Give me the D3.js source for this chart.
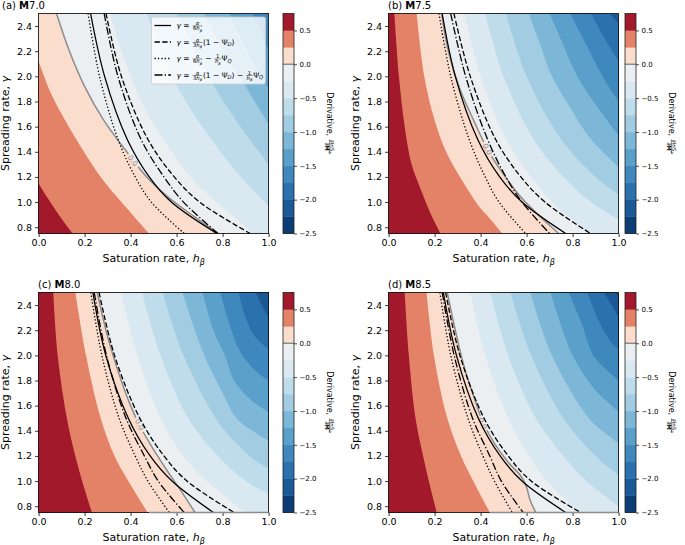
<!DOCTYPE html>
<html><head><meta charset="utf-8">
<script src="https://cdn.jsdelivr.net/npm/d3@7"></script>
<style>body{margin:0;background:#fff} text{font-family:"DejaVu Sans",sans-serif}</style>
</head><body><svg id="c" width="685" height="545" xmlns="http://www.w3.org/2000/svg"></svg>
<script>
// ---------------- data ----------------
const gammaSamples = [2.5, 2.0, 1.5, 1.2, 1.0, 0.75];
const xTicks = [0, 0.2, 0.4, 0.6, 0.8, 1.0];
const yTicks = [0.8, 1.0, 1.2, 1.4, 1.6, 1.8, 2.0, 2.2, 2.4];
const cbTicks = [0.5, 0, -0.5, -1, -1.5, -2, -2.5];
const levels = [-2.5,-2.25,-2,-1.75,-1.5,-1.25,-1,-0.75,-0.5,-0.25,0,0.25,0.5,0.75];
const panelTags = ["(a)", "(b)", "(c)", "(d)"];
const magnitudes = ["7.0", "7.5", "8.0", "8.5"];

// contour boundaries [level, [[h, gamma], ...]] (value >= level lies lower-left)
const contoursA = [
  [-1.5, [[0.93,2.5],[0.965,2.36],[1.0,2.2]]],
  [-1.25,[[0.83,2.5],[0.91,2.2],[1.0,1.9]]],
  [-1.0, [[0.72,2.5],[0.8,2.22],[0.9,1.92],[1.0,1.62]]],
  [-0.75,[[0.6,2.5],[0.68,2.2],[0.78,1.87],[0.89,1.57],[1.0,1.3]]],
  [-0.5, [[0.47,2.5],[0.55,2.12],[0.64,1.8],[0.75,1.5],[0.87,1.22],[1.0,0.97]]],
  [-0.25,[[0.31,2.5],[0.38,2.1],[0.46,1.75],[0.56,1.45],[0.66,1.2],[0.76,1.02],[0.86,0.87],[0.93,0.75]]],
  [0,    [[0.078,2.5],[0.13,2.22],[0.2,1.92],[0.28,1.66],[0.375,1.42],[0.47,1.2],[0.57,1.03],[0.68,0.88],[0.78,0.75]]],
  [0.25, [[0,2.12],[0.05,1.88],[0.1,1.7],[0.18,1.45],[0.27,1.2],[0.36,1.0],[0.48,0.75]]],
  [0.5,  [[0,1.15],[0.04,1.03],[0.08,0.92],[0.115,0.83],[0.148,0.75]]]
];
const contoursB = [
  [-2.0, [[0.96,2.5],[1.0,2.42]]],
  [-1.75,[[0.88,2.5],[0.94,2.3],[1.0,2.12]]],
  [-1.5, [[0.79,2.5],[0.86,2.25],[0.93,2.0],[1.0,1.8]]],
  [-1.25,[[0.70,2.5],[0.76,2.25],[0.82,2.0],[0.91,1.75],[1.0,1.53]]],
  [-1.0, [[0.61,2.5],[0.66,2.25],[0.71,2.0],[0.79,1.75],[0.88,1.5],[1.0,1.28]]],
  [-0.75,[[0.51,2.5],[0.6,2.0],[0.75,1.5],[0.9,1.2],[1.0,1.06]]],
  [-0.5, [[0.42,2.5],[0.5,2.0],[0.63,1.5],[0.76,1.2],[0.88,1.0],[1.0,0.86]]],
  [-0.25,[[0.33,2.5],[0.4,2.0],[0.51,1.5],[0.62,1.2],[0.71,1.0],[0.87,0.75]]],
  [0,    [[0.23,2.5],[0.26,2.2],[0.31,1.9],[0.37,1.65],[0.43,1.42],[0.5,1.22],[0.57,1.05],[0.65,0.9],[0.74,0.75]]],
  [0.25, [[0.122,2.5],[0.155,2.0],[0.2,1.65],[0.25,1.4],[0.32,1.17],[0.4,0.95],[0.44,0.87],[0.494,0.75]]],
  [0.5,  [[0.025,2.5],[0.045,2.0],[0.07,1.6],[0.1,1.3],[0.14,1.1],[0.18,0.92],[0.226,0.75]]]
];
const contoursC = [
  [-2.25,[[0.99,2.5],[1.0,2.48]]],
  [-2.0, [[0.945,2.5],[0.97,2.4],[1.0,2.3]]],
  [-1.75,[[0.87,2.5],[0.9,2.3],[0.94,2.15],[1.0,2.05]]],
  [-1.5, [[0.79,2.5],[0.83,2.25],[0.87,2.05],[0.93,1.9],[1.0,1.8]]],
  [-1.25,[[0.713,2.5],[0.76,2.2],[0.81,2.0],[0.85,1.8],[0.92,1.65],[1.0,1.55]]],
  [-1.0, [[0.626,2.5],[0.72,2.0],[0.8,1.7],[0.86,1.5],[0.93,1.4],[1.0,1.32]]],
  [-0.75,[[0.54,2.5],[0.63,2.0],[0.77,1.5],[0.86,1.3],[0.93,1.18],[1.0,1.1]]],
  [-0.5, [[0.45,2.5],[0.53,2.0],[0.65,1.5],[0.78,1.2],[0.9,1.0],[1.0,0.9]]],
  [-0.25,[[0.358,2.5],[0.43,2.0],[0.53,1.5],[0.63,1.2],[0.73,1.0],[0.9,0.75]]],
  [0,    [[0.255,2.5],[0.3,2.15],[0.35,1.85],[0.4,1.6],[0.44,1.44],[0.5,1.25],[0.56,1.08],[0.62,0.92],[0.68,0.75]]],
  [0.25, [[0.16,2.5],[0.206,2.0],[0.27,1.5],[0.33,1.2],[0.39,1.0],[0.474,0.75]]],
  [0.5,  [[0.064,2.5],[0.083,2.0],[0.126,1.47],[0.177,1.08],[0.232,0.75]]]
];
const contoursD = [
  [-2.25,[[0.985,2.5],[1.0,2.47]]],
  [-2.0, [[0.936,2.5],[0.97,2.4],[1.0,2.3]]],
  [-1.75,[[0.864,2.5],[0.92,2.25],[0.97,2.1],[1.0,2.05]]],
  [-1.5, [[0.784,2.5],[0.84,2.25],[0.89,2.0],[0.95,1.88],[1.0,1.8]]],
  [-1.25,[[0.704,2.5],[0.8,2.0],[0.9,1.72],[0.97,1.6],[1.0,1.55]]],
  [-1.0, [[0.617,2.5],[0.71,2.0],[0.87,1.5],[0.95,1.37],[1.0,1.3]]],
  [-0.75,[[0.53,2.5],[0.62,2.0],[0.76,1.5],[0.9,1.2],[1.0,1.05]]],
  [-0.5, [[0.443,2.5],[0.52,2.0],[0.64,1.5],[0.76,1.2],[0.86,1.0],[1.0,0.8]]],
  [-0.25,[[0.356,2.5],[0.42,2.0],[0.52,1.5],[0.61,1.2],[0.69,1.0],[0.83,0.75]]],
  [0,    [[0.255,2.5],[0.29,2.2],[0.33,1.9],[0.38,1.62],[0.41,1.47],[0.46,1.3],[0.52,1.15],[0.575,1.04],[0.6,0.95],[0.615,0.85],[0.64,0.75]]],
  [0.25, [[0.165,2.5],[0.197,2.0],[0.255,1.5],[0.315,1.2],[0.368,1.0],[0.44,0.75]]],
  [0.5,  [[0.07,2.5],[0.088,2.0],[0.117,1.5],[0.15,1.2],[0.175,1.0],[0.209,0.75]]]
];

// threshold curves: h at each gammaSamples value
const solidA   = [0.226,0.287,0.385,0.481,0.577,0.775];
const dashedA  = [0.293,0.36,0.475,0.59,0.70,0.92];
const dottedA  = [0.215,0.265,0.345,0.42,0.49,0.633];
const dashdotA = [0.285,0.345,0.445,0.545,0.63,0.78];
const solidB   = [0.233,0.29,0.387,0.483,0.58,0.77];
const dashedB  = [0.284,0.355,0.465,0.575,0.68,0.878];
const dottedB  = [0.219,0.27,0.35,0.42,0.48,0.596];
const dashdotB = [0.27,0.335,0.43,0.51,0.58,0.70];
const solidC   = [0.236,0.292,0.39,0.485,0.58,0.76];
const dashedC  = [0.263,0.33,0.44,0.545,0.645,0.85];
const dottedC  = [0.227,0.275,0.35,0.42,0.475,0.568];
const dashdotC = [0.242,0.295,0.38,0.46,0.52,0.633];
const solidD   = [0.238,0.295,0.39,0.485,0.58,0.77];
const dashedD  = [0.248,0.31,0.415,0.52,0.62,0.835];
const dottedD  = [0.223,0.27,0.345,0.41,0.46,0.538];
const dashdotD = [0.233,0.285,0.365,0.44,0.49,0.585];

// zero-contour label positions [h, gamma] and zero contour along bottom edge [h0, h1]
const zeroLabelA = [0.41, 1.33];
const zeroLabelB = [0.43, 1.42];
const zeroLabelC = [0.44, 1.45];
const zeroLabelD = [0.41, 1.46];
const bottomZeroC = [0.48, 1.0];
const bottomZeroD = [0.44, 1.0];

// ---------------- layout ----------------
const PW = 230, PH = 220, CBW = 11;
const frames = [
  {x:38.6, y:13.5, cb:283, tx:2},
  {x:388.6, y:13.5, cb:625, tx:388},
  {x:38.6, y:292.5, cb:283, tx:38},
  {x:388.6, y:292.5, cb:625, tx:388}
];
const panels = [
  {contours:contoursA, curves:[solidA,dashedA,dottedA,dashdotA], label:zeroLabelA, bottom:null},
  {contours:contoursB, curves:[solidB,dashedB,dottedB,dashdotB], label:zeroLabelB, bottom:null},
  {contours:contoursC, curves:[solidC,dashedC,dottedC,dashdotC], label:zeroLabelC, bottom:bottomZeroC},
  {contours:contoursD, curves:[solidD,dashedD,dottedD,dashdotD], label:zeroLabelD, bottom:bottomZeroD}
];
const dashes = [null, "5.4,2.3", "1.3,2.1", "8,2.2,1.3,2.2"];
const LW = 1.3;

const svg = d3.select("#c");
const defs = svg.append("defs");
const cmapColor = v => { const t = v < 0 ? 0.5 + 0.5 * v / 2.5 : 0.5 + 0.5 * v / 0.75; return d3.interpolateRdBu(1 - t); };
const NB = "\u00a0";

// math layout helper
function layoutMath(g, tokens, size, x0, base) {
  let x = x0;
  for (const t of tokens) {
    if (t.frac) {
      const fs = size * 0.7;
      const ng = g.append("g"), dg = g.append("g");
      const nw = layoutMath(ng, t.frac[0], fs, 0, 0);
      const dw = layoutMath(dg, t.frac[1], fs, 0, 0);
      const w = Math.max(nw, dw) + size * 0.25;
      const ax = base - size * 0.3;
      ng.attr("transform", `translate(${x + (w - nw) / 2},${ax - size * 0.1})`);
      dg.attr("transform", `translate(${x + (w - dw) / 2},${ax + size * 0.1 + fs * 0.72})`);
      g.append("line").attr("x1", x + size * 0.08).attr("x2", x + w - size * 0.08)
        .attr("y1", ax).attr("y2", ax).attr("stroke", "#000").attr("stroke-width", Math.max(0.45, size * 0.06));
      x += w;
    } else {
      const fs = t.sub ? size * 0.7 : size;
      const tx = g.append("text").attr("x", x).attr("y", base + (t.sub ? size * 0.22 : 0))
        .attr("font-size", fs).attr("font-style", t.i ? "italic" : "normal")
        .attr("font-weight", t.b ? "bold" : "normal").attr("fill", "#000").text(t.s);
      x += tx.node().getComputedTextLength();
    }
  }
  return x - x0;
}
const T = (s, o = {}) => Object.assign({s}, o);
const hb = [T("h", {i:true}), T("β", {sub:true, i:true})];
const frA6 = {frac:[[T("α",{i:true})], [T("6"), ...hb]]};
const frA3 = {frac:[[T("α",{i:true})], [T("3"), ...hb]]};
const fr1h = {frac:[[T("1")], hb]};
const psiD = [T("(1" + NB + "−" + NB + "Ψ"), T("D",{sub:true,i:true}), T(")")];
const psiQ = [T("Ψ"), T("Q",{sub:true,i:true})];
const minus = T(NB + "−" + NB);
const legendRows = [
  [T("γ",{i:true}), T(NB + "=" + NB), frA6],
  [T("γ",{i:true}), T(NB + "=" + NB), frA3, ...psiD],
  [T("γ",{i:true}), T(NB + "=" + NB), frA6, minus, fr1h, ...psiQ],
  [T("γ",{i:true}), T(NB + "=" + NB), frA3, ...psiD, minus, fr1h, ...psiQ]
];

panels.forEach((P, pi) => {
  const F = frames[pi];
  const x = d3.scaleLinear().domain([0, 1]).range([F.x, F.x + PW]);
  const y = d3.scaleLinear().domain([0.75, 2.5]).range([F.y + PH, F.y]);
  const clipId = "clip" + pi;
  defs.append("clipPath").attr("id", clipId).append("rect")
    .attr("x", F.x).attr("y", F.y).attr("width", PW).attr("height", PH);
  const g = svg.append("g").attr("clip-path", `url(#${clipId})`);

  // filled contours (painter's order, lowest level first)
  const bounds = P.contours.slice().sort((a, b) => a[0] - b[0]);
  const lmin = bounds[0][0];
  g.append("rect").attr("x", F.x).attr("y", F.y).attr("width", PW).attr("height", PH)
    .attr("fill", cmapColor(lmin - 0.125));
  const lineGen = d3.line().x(d => x(d[0])).y(d => y(d[1])).curve(d3.curveCatmullRom.alpha(0.5));
  bounds.forEach(([lev, pts]) => {
    const d = lineGen(pts) + `L${x(10)},${y(-10)}L${x(-10)},${y(-10)}L${x(-10)},${y(10)}Z`;
    g.append("path").attr("d", d).attr("fill", cmapColor(lev + 0.125));
  });

  // zero contour (gray) with inline label gap
  const zero = P.contours.find(c => c[0] === 0)[1];
  const lp = [x(P.label[0]), y(P.label[1])];
  let best = 0, bd = 1e9;
  zero.forEach((p, i) => { const dd = Math.hypot(x(p[0]) - lp[0], y(p[1]) - lp[1]); if (dd < bd) { bd = dd; best = i; } });
  const i0 = Math.max(0, best - 1), i1 = Math.min(zero.length - 1, best + 1);
  let ang = Math.atan2(y(zero[i1][1]) - y(zero[i0][1]), x(zero[i1][0]) - x(zero[i0][0])) * 180 / Math.PI;
  if (ang > 90) ang -= 180; if (ang < -90) ang += 180;
  const maskId = "mask" + pi;
  const mk = defs.append("mask").attr("id", maskId).attr("maskUnits", "userSpaceOnUse")
    .attr("x", 0).attr("y", 0).attr("width", 685).attr("height", 545);
  mk.append("rect").attr("x", 0).attr("y", 0).attr("width", 685).attr("height", 545).attr("fill", "#fff");
  mk.append("rect").attr("x", -8).attr("y", -4).attr("width", 16).attr("height", 8).attr("fill", "#000")
    .attr("transform", `translate(${lp[0]},${lp[1]}) rotate(${ang})`);
  g.append("path").attr("d", lineGen(zero)).attr("fill", "none").attr("stroke", "#8c8c8c")
    .attr("stroke-width", 1.5).attr("mask", `url(#${maskId})`);
  g.append("text").attr("transform", `translate(${lp[0]},${lp[1]}) rotate(${ang})`)
    .attr("text-anchor", "middle").attr("dy", "0.35em").attr("font-size", 7.5).attr("fill", "#8c8c8c").text("0.0");

  // threshold curves
  P.curves.forEach((hs, ci) => {
    const pts = gammaSamples.map((gm, k) => [hs[k], gm]);
    const p = g.append("path").attr("d", lineGen(pts)).attr("fill", "none")
      .attr("stroke", "#000").attr("stroke-width", LW);
    if (dashes[ci]) p.attr("stroke-dasharray", dashes[ci]);
  });

  // axes
  const ax = svg.append("g").attr("transform", `translate(0,${F.y + PH})`)
    .call(d3.axisBottom(x).tickValues(xTicks).tickFormat(d3.format(".1f")).tickSize(3.5).tickPadding(2.5));
  const ay = svg.append("g").attr("transform", `translate(${F.x},0)`)
    .call(d3.axisLeft(y).tickValues(yTicks).tickFormat(d3.format(".1f")).tickSize(3.5).tickPadding(3));
  [ax, ay].forEach(a => {
    a.select(".domain").remove();
    a.selectAll("text").attr("font-size", 9.5).attr("font-family", "DejaVu Sans").attr("fill", "#000");
    a.selectAll("line").attr("stroke", "#000").attr("stroke-width", 0.8);
  });
  svg.append("rect").attr("x", F.x).attr("y", F.y).attr("width", PW).attr("height", PH)
    .attr("fill", "none").attr("stroke", "#000").attr("stroke-width", 0.8);
  if (P.bottom) {
    svg.append("line").attr("x1", x(P.bottom[0])).attr("x2", x(P.bottom[1]))
      .attr("y1", F.y + PH).attr("y2", F.y + PH).attr("stroke", "#8c8c8c").attr("stroke-width", 1.5);
  }

  // axis labels
  const xl = svg.append("text").attr("x", F.x + PW / 2).attr("y", F.y + PH + 28.5)
    .attr("text-anchor", "middle").attr("font-size", 11);
  xl.append("tspan").text("Saturation rate, ");
  xl.append("tspan").attr("font-style", "italic").text("h");
  xl.append("tspan").attr("font-style", "italic").attr("font-size", 8).attr("dy", 2.5).text("β");
  const yl = svg.append("text").attr("transform", `translate(${F.x - 29.5},${F.y + PH / 2}) rotate(-90)`)
    .attr("text-anchor", "middle").attr("font-size", 11);
  yl.append("tspan").text("Spreading rate, ");
  yl.append("tspan").attr("font-style", "italic").text("γ");

  // title
  const tt = svg.append("text").attr("x", F.tx).attr("y", F.y - 4.5).attr("font-size", 10);
  tt.append("tspan").text(panelTags[pi] + " ");
  tt.append("tspan").attr("font-weight", "bold").text("M");
  tt.append("tspan").text(magnitudes[pi]);

  // colorbar
  const cy = d3.scaleLinear().domain([-2.5, 0.75]).range([F.y + PH, F.y]);
  const cbg = svg.append("g");
  for (let k = 0; k < levels.length - 1; k++) {
    cbg.append("rect").attr("x", F.cb).attr("width", CBW)
      .attr("y", cy(levels[k + 1])).attr("height", cy(levels[k]) - cy(levels[k + 1]) + 0.3)
      .attr("fill", cmapColor((levels[k] + levels[k + 1]) / 2));
  }
  cbg.append("line").attr("x1", F.cb).attr("x2", F.cb + CBW).attr("y1", cy(0)).attr("y2", cy(0))
    .attr("stroke", "#8c8c8c").attr("stroke-width", 1.5);
  cbg.append("rect").attr("x", F.cb).attr("y", F.y).attr("width", CBW).attr("height", PH)
    .attr("fill", "none").attr("stroke", "#222").attr("stroke-width", 0.8);
  const ac = svg.append("g").attr("transform", `translate(${F.cb + CBW},0)`)
    .call(d3.axisRight(cy).tickValues(cbTicks).tickFormat(d3.format(".1f")).tickSize(3).tickPadding(2.5));
  ac.select(".domain").remove();
  ac.selectAll("text").attr("font-size", 7).attr("font-family", "DejaVu Sans").attr("fill", "#000");
  ac.selectAll("line").attr("stroke", "#000").attr("stroke-width", 0.7);
  const cl = svg.append("g");
  const inner = cl.append("g");
  const wl = layoutMath(inner, [T("Derivative," + NB), {frac:[[T("∂lnS"), T("a",{sub:true,i:true})], [T("∂"), T("M",{b:true})]]}], 8, 0, 0);
  inner.attr("transform", `translate(${-wl / 2},0)`);
  cl.attr("transform", `translate(${F.cb + CBW + 33},${F.y + PH / 2}) rotate(90)`);

  // legend (panel a only)
  if (pi === 0) {
    const lg = svg.append("g");
    lg.append("rect").attr("x", 151.5).attr("y", 17).attr("width", 114).attr("height", 67).attr("rx", 2)
      .attr("fill", "#fff").attr("fill-opacity", 0.8).attr("stroke", "#cccccc").attr("stroke-width", 0.8);
    const rowY = [25.5, 42, 58.5, 75];
    legendRows.forEach((row, ri) => {
      const ln = lg.append("line").attr("x1", 154.5).attr("x2", 171).attr("y1", rowY[ri]).attr("y2", rowY[ri])
        .attr("stroke", "#000").attr("stroke-width", LW);
      if (dashes[ri]) ln.attr("stroke-dasharray", dashes[ri]);
      layoutMath(lg.append("g"), row, 7.5, 176.5, rowY[ri] + 2.7);
    });
  }
});
</script></body></html>
